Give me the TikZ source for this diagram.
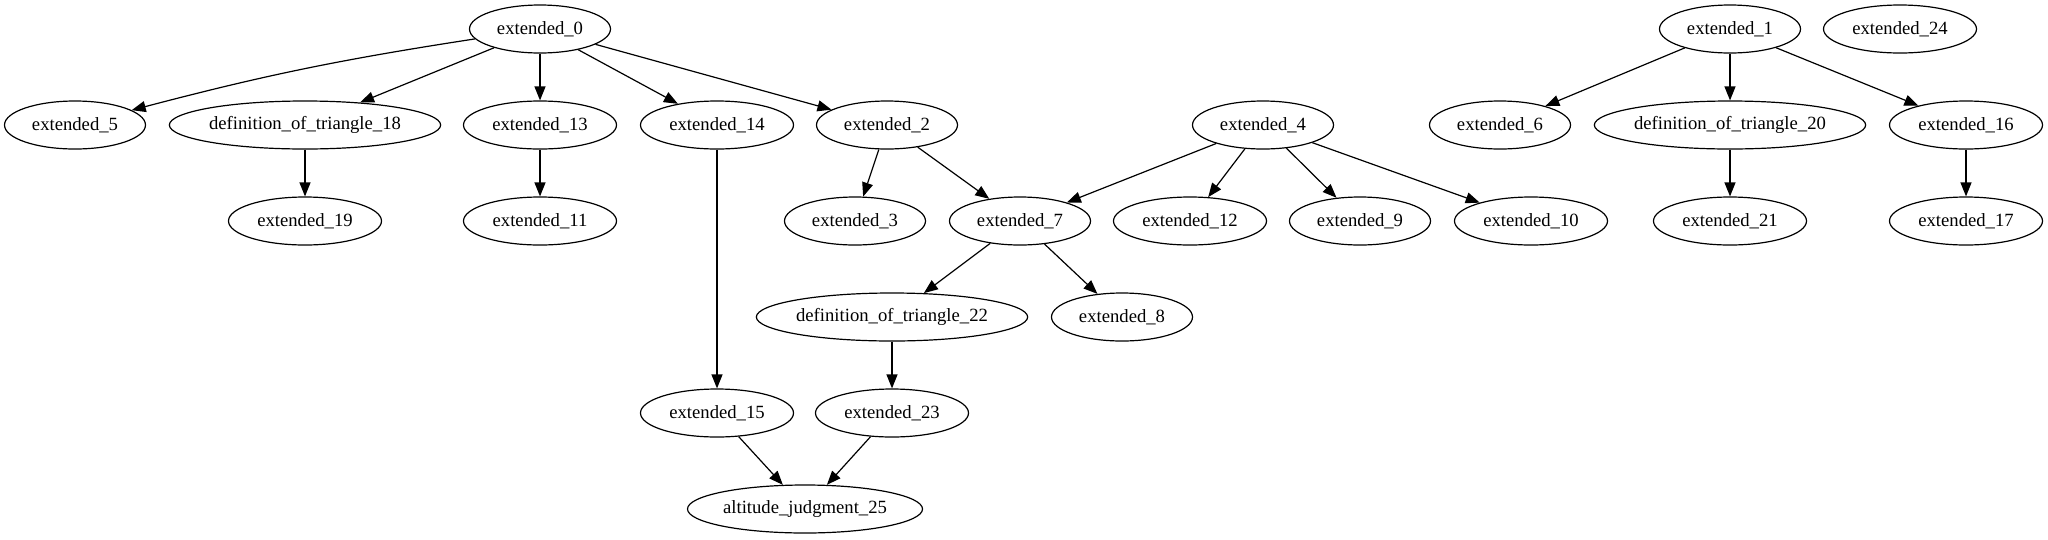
\documentclass[tikz,border=0pt]{standalone}
\usepackage{fontspec}
\setmainfont{Liberation Serif}
\usetikzlibrary{shapes.geometric,arrows.meta}
\tikzset{
  gnode/.style={draw, ellipse, line width=1.2pt, inner sep=0pt, minimum height=48pt, font=\fontsize{18.67}{22}\selectfont},
  wa/.style={gnode, minimum width=141pt},
  wb/.style={gnode, minimum width=153pt},
  wd/.style={gnode, minimum width=270pt},
  wj/.style={gnode, minimum width=235pt},
  edge/.style={line width=1.2pt, -{Triangle[length=14pt,width=11pt]}}
}
\begin{document}
\begin{tikzpicture}[x=1pt,y=-1pt]
\useasboundingbox (0,0) rectangle (2048,539);
\node[wa] (e0) at (540,29) {extended\_0};
\node[wa] (e1) at (1730,29) {extended\_1};
\node[wb] (e24) at (1900,29) {extended\_24};
\node[wa] (e5) at (75,125) {extended\_5};
\node[wd] (d18) at (305,125) {definition\_of\_triangle\_18};
\node[wb] (e13) at (540,125) {extended\_13};
\node[wb] (e14) at (717,125) {extended\_14};
\node[wa] (e2) at (887,125) {extended\_2};
\node[wa] (e4) at (1263,125) {extended\_4};
\node[wa] (e6) at (1500,125) {extended\_6};
\node[wd] (d20) at (1730,125) {definition\_of\_triangle\_20};
\node[wb] (e16) at (1966,125) {extended\_16};
\node[wb] (e19) at (305,221) {extended\_19};
\node[wb] (e11) at (540,221) {extended\_11};
\node[wa] (e3) at (855,221) {extended\_3};
\node[wa] (e7) at (1020,221) {extended\_7};
\node[wb] (e12) at (1190,221) {extended\_12};
\node[wa] (e9) at (1360,221) {extended\_9};
\node[wb] (e10) at (1531,221) {extended\_10};
\node[wb] (e21) at (1730,221) {extended\_21};
\node[wb] (e17) at (1966,221) {extended\_17};
\node[wd] (d22) at (892,317) {definition\_of\_triangle\_22};
\node[wa] (e8) at (1122,317) {extended\_8};
\node[wb] (e15) at (717,413) {extended\_15};
\node[wb] (e23) at (892,413) {extended\_23};
\node[wj] (a25) at (805,509) {altitude\_judgment\_25};

\draw[edge] (e0) to[bend right=3] (e5);
\draw[edge] (e0) -- (d18);
\draw[edge] (e0) -- (e13);
\draw[edge] (e0) -- (e14);
\draw[edge] (e0) -- (e2);
\draw[edge] (d18) -- (e19);
\draw[edge] (e13) -- (e11);
\draw[edge] (e14) -- (e15);
\draw[edge] (e2) -- (e3);
\draw[edge] (e2) -- (e7);
\draw[edge] (e4) -- (e7);
\draw[edge] (e4) -- (e12);
\draw[edge] (e4) -- (e9);
\draw[edge] (e4) -- (e10);
\draw[edge] (e7) -- (d22);
\draw[edge] (e7) -- (e8);
\draw[edge] (d22) -- (e23);
\draw[edge] (e15) -- (a25);
\draw[edge] (e23) -- (a25);
\draw[edge] (e1) -- (e6);
\draw[edge] (e1) -- (d20);
\draw[edge] (e1) -- (e16);
\draw[edge] (d20) -- (e21);
\draw[edge] (e16) -- (e17);
\end{tikzpicture}
\end{document}
